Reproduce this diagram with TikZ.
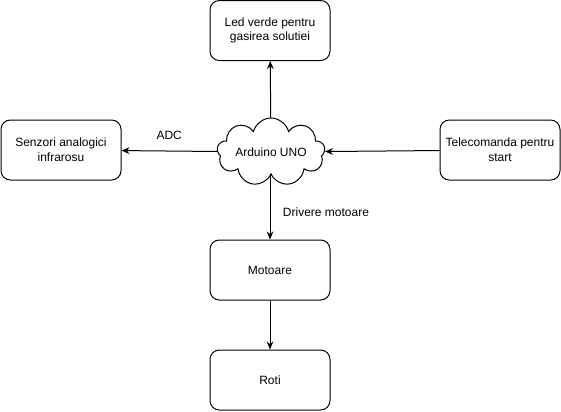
\documentclass[tikz,border=0pt]{standalone}
\usepackage{fontspec}
\setmainfont{Liberation Sans}
\usetikzlibrary{arrows.meta, shapes.symbols}
\def\Led{Led verde pentru\\gasirea solutiei}
\def\Senzori{Senzori analogici\\infrarosu}
\def\Telecomanda{Telecomanda pentru\\start}
\def\Arduino{Arduino UNO}
\def\Motoare{Motoare}
\def\Roti{Roti}

\begin{document}
\begin{tikzpicture}[x=0.75pt, y=-0.75pt, font=\fontsize{9}{11}\selectfont,
    block/.style={draw, rounded corners=7pt, line width=0.75pt,
        minimum width=90pt, minimum height=45pt, align=center},
    board/.style={draw, cloud, cloud puffs=9, cloud ignores aspect, line width=0.75pt,
        inner sep=0pt, minimum width=81pt, minimum height=51pt},
    link/.style={-{Stealth[length=6pt, width=5pt]}, line width=0.75pt}]
    \useasboundingbox (0,0) rectangle (561,411);

    \node[block] (led) at (270,30.5) {\Led};
    \node[board] (uno) at (271,152) {\Arduino};
    \node[block] (senzori) at (61,150) {\Senzori};
    \node[block] (telecomanda) at (500,150) {\Telecomanda};
    \node[block] (motoare) at (270,270) {\Motoare};
    \node[block] (roti) at (270,380) {\Roti};

    \draw[link] (uno) -- (led);
    \draw[link] (uno) -- node[midway, above=5pt] {ADC} (senzori);
    \draw[link] (telecomanda) -- (uno);
    \draw[link] (uno.south -| motoare.north) -- node[midway, right=6pt, yshift=-4pt] {Drivere motoare} (motoare);
    \draw[link] (motoare) -- (roti);
\end{tikzpicture}
\end{document}
